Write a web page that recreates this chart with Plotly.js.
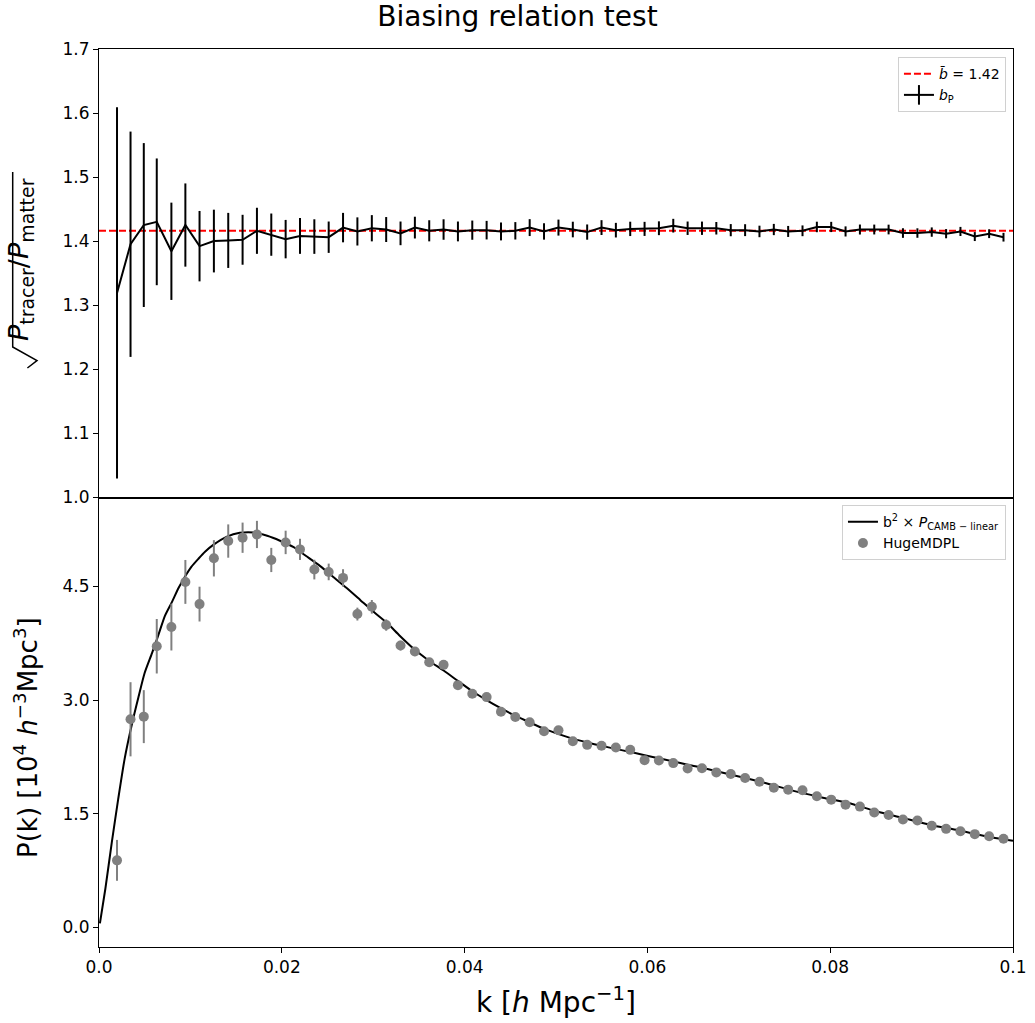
<!DOCTYPE html>
<html><head><meta charset="utf-8">
<script src="https://cdn.plot.ly/plotly-3.0.1.min.js"></script>
<style>html,body{margin:0;padding:0;background:#fff}</style>
</head><body><div id="chart" style="width:1035px;height:1023px"></div>
<script>
// wavenumbers of the measured bins [h/Mpc]
const k = [0.00197,0.00345,0.00490,0.00632,0.00792,0.00945,0.01100,0.01257,0.01414,0.01571,
0.01728,0.01885,0.02042,0.02199,0.02356,0.02513,0.02670,0.02827,0.02985,0.03142,
0.03299,0.03456,0.03613,0.03770,0.03927,0.04084,0.04241,0.04398,0.04555,0.04712,
0.04869,0.05027,0.05184,0.05341,0.05498,0.05655,0.05812,0.05969,0.06126,0.06283,
0.06440,0.06597,0.06754,0.06912,0.07069,0.07226,0.07383,0.07540,0.07697,0.07854,
0.08011,0.08168,0.08325,0.08482,0.08639,0.08796,0.08954,0.09111,0.09268,0.09425,
0.09582,0.09739,0.09896];
// bias sqrt(Ptracer/Pmatter)
const bias = [1.319,1.395,1.425,1.430,1.384,1.425,1.392,1.400,1.401,1.402,
1.416,1.410,1.403,1.408,1.407,1.406,1.421,1.415,1.420,1.418,
1.412,1.421,1.416,1.418,1.415,1.417,1.417,1.415,1.416,1.421,
1.415,1.421,1.418,1.414,1.421,1.417,1.419,1.419,1.420,1.424,
1.420,1.420,1.420,1.417,1.417,1.415,1.418,1.415,1.416,1.422,
1.422,1.415,1.418,1.418,1.418,1.4125,1.4125,1.414,1.4115,1.415,
1.407,1.4115,1.406];
const biasErr = [0.290,0.176,0.128,0.099,0.076,0.065,0.055,0.049,0.043,0.039,
0.036,0.033,0.030,0.028,0.027,0.0245,0.023,0.022,0.0205,0.0195,
0.0185,0.017,0.0165,0.016,0.0155,0.015,0.0145,0.014,0.0136,0.0132,
0.0128,0.0125,0.0122,0.0119,0.0116,0.0114,0.0112,0.011,0.0108,0.0107,
0.0105,0.0104,0.0098,0.0095,0.0093,0.009,0.0088,0.0086,0.0084,0.0082,
0.008,0.0079,0.0078,0.0077,0.0076,0.0075,0.0074,0.0073,0.0072,0.0071,
0.007,0.0069,0.0068];
const meanBias = 1.416;
const meanBiasLabel = "1.42";
const kRange = [0, 0.1];
// measured power spectrum [1e4 (Mpc/h)^3]
const pk = [0.882,2.746,2.781,3.711,3.965,4.561,4.268,4.873,5.101,5.145,
5.188,4.851,5.083,4.991,4.724,4.693,4.614,4.136,4.232,3.991,
3.720,3.641,3.500,3.465,3.197,3.083,3.039,2.846,2.776,2.706,
2.588,2.601,2.456,2.408,2.395,2.373,2.342,2.206,2.202,2.167,
2.096,2.100,2.044,2.022,1.969,1.921,1.842,1.816,1.807,1.728,
1.684,1.618,1.592,1.513,1.482,1.421,1.408,1.338,1.298,1.267,
1.228,1.201,1.167];
const pkErr = [0.27,0.49,0.35,0.36,0.31,0.29,0.23,0.24,0.22,0.20,
0.18,0.16,0.155,0.14,0.13,0.11,0.115,0.085,0.09,0.075,
0.065,0.06,0.055,0.05,0.047,0.044,0.041,0.038,0.036,0.034,
0.032,0.030,0.029,0.028,0.027,0.026,0.025,0.024,0.023,0.022,
0.021,0.020,0.020,0.019,0.019,0.018,0.018,0.017,0.017,0.017,
0.016,0.016,0.016,0.015,0.015,0.015,0.015,0.014,0.014,0.014,
0.014,0.013,0.013];
// linear theory b^2 * P_CAMB
const kTheory = [0.0001,0.0007,0.0014,0.0021,0.0028,0.0036,0.0043,0.0050,0.0058,0.0065,
0.0072,0.0080,0.0087,0.0094,0.0101,0.0109,0.0116,0.0125,0.0140,0.0154,
0.0169,0.0184,0.0198,0.0213,0.0227,0.0242,0.0256,0.0271,0.0286,0.0300,
0.0315,0.0329,0.0345,0.0361,0.0377,0.0393,0.0408,0.0424,0.0440,0.0456,
0.0472,0.0487,0.0503,0.0518,0.0534,0.0550,0.0565,0.0581,0.0597,0.0612,
0.0628,0.0644,0.0660,0.0700,0.0730,0.0760,0.0792,0.0820,0.0850,0.0880,
0.0910,0.0940,0.0970,0.1000];
const pTheory = [0.05,0.51,1.12,1.69,2.22,2.68,3.03,3.36,3.62,3.86,
4.11,4.30,4.48,4.63,4.76,4.87,4.96,5.05,5.16,5.21,
5.215,5.17,5.105,5.02,4.90,4.77,4.63,4.48,4.32,4.17,
4.02,3.85,3.67,3.52,3.39,3.25,3.12,3.00,2.89,2.79,
2.70,2.62,2.55,2.49,2.44,2.395,2.355,2.315,2.27,2.23,
2.19,2.145,2.105,1.99,1.90,1.80,1.71,1.64,1.53,1.44,
1.35,1.28,1.20,1.14];
const xTicks = [0, 0.02, 0.04, 0.06, 0.08, 0.1];
const xTickText = ["0.0","0.02","0.04","0.06","0.08","0.1"];
const yTopTicks = [1.0,1.1,1.2,1.3,1.4,1.5,1.6,1.7];
const yTopTickText = ["1.0","1.1","1.2","1.3","1.4","1.5","1.6","1.7"];
const yBotTicks = [0, 1.5, 3.0, 4.5];
const yBotTickText = ["0.0","1.5","3.0","4.5"];

const FONT = "DejaVu Sans";
const W = 1035, H = 1023, ML = 99, MR = 22, MT = 49, MB = 76;
const PW = W - ML - MR, PH = H - MT - MB;
// pixel -> paper helpers for the hand-drawn radical sign of the y label
const px = v => (v - ML) / PW;
const py = v => (H - MB - v) / PH;
const radical = 'M ' + px(27.4) + ' ' + py(368) + ' L ' + px(37) + ' ' + py(360.5) +
                ' L ' + px(12.7) + ' ' + py(347) + ' L ' + px(12.7) + ' ' + py(172);

const traces = [
  {x: kRange, y: [meanBias, meanBias], xaxis:'x2', yaxis:'y2', mode:'lines',
   line:{color:'#ff0000', width:2, dash:'7px,3px'}, name:'<i>b\u0304</i> = '+meanBiasLabel, legend:'legend'},
  {x: k, y: bias, xaxis:'x2', yaxis:'y2', mode:'lines', line:{color:'#000', width:2},
   error_y:{type:'data', array: biasErr, visible:true, color:'#000', thickness:2, width:0},
   showlegend:false},
  {x:[null], y:[null], xaxis:'x2', yaxis:'y2', mode:'lines+markers', line:{color:'#000', width:2},
   marker:{symbol:'line-ns', size:14, line:{color:'#000', width:2}},
   name:'<i>b</i><sub>P</sub>', legend:'legend'},
  {x: kTheory, y: pTheory, xaxis:'x', yaxis:'y', mode:'lines',
   line:{color:'#000', width:2, shape:'spline', smoothing:0.6},
   name:'b<sup>2</sup> × <i>P</i><sub>CAMB − linear</sub>', legend:'legend2'},
  {x: k, y: pk, xaxis:'x', yaxis:'y', mode:'markers',
   marker:{color:'#808080', size:10},
   error_y:{type:'data', array: pkErr, visible:true, color:'#808080', thickness:2, width:0},
   name:'HugeMDPL', legend:'legend2'}
];

const axisCommon = {showline:true, linecolor:'#000', linewidth:1, mirror:true,
  ticks:'outside', ticklen:5, tickwidth:1, tickcolor:'#000', showgrid:false, zeroline:false,
  tickfont:{family:FONT, size:17, color:'#000'}};

const layout = {
  width:W, height:H,
  margin:{l:ML, r:MR, t:MT, b:MB},
  paper_bgcolor:'#fff', plot_bgcolor:'#fff',
  font:{family:FONT, color:'#000'},
  title:{text:'Biasing relation test', x:0.5, xref:'container', xanchor:'center',
         y:1-16/1023, yref:'container', yanchor:'middle', font:{family:FONT, size:28, color:'#000'}},
  xaxis: Object.assign({}, axisCommon, {domain:[0,1], anchor:'y', range:[0,0.1],
     tickvals:xTicks, ticktext:xTickText}),
  xaxis2: Object.assign({}, axisCommon, {domain:[0,1], anchor:'y2', range:[0,0.1], matches:'x',
     showticklabels:false, ticks:''}),
  yaxis: Object.assign({}, axisCommon, {domain:[0,0.499], anchor:'x', range:[-0.263,5.658],
     tickvals:yBotTicks, ticktext:yBotTickText}),
  yaxis2: Object.assign({}, axisCommon, {domain:[0.501,1], anchor:'x2', range:[1.0,1.7],
     tickvals:yTopTicks, ticktext:yTopTickText}),
  legend:{x:0.9923, xanchor:'right', y:0.991, yanchor:'top', bgcolor:'#fff',
     bordercolor:'#d0d0d0', borderwidth:1, font:{family:FONT, size:14, color:'#000'}},
  legend2:{x:0.9923, xanchor:'right', y:0.492, yanchor:'top', bgcolor:'#fff',
     bordercolor:'#d0d0d0', borderwidth:1, font:{family:FONT, size:14, color:'#000'}},
  shapes:[
    {type:'path', xref:'paper', yref:'paper', path: radical, line:{color:'#000', width:1.5}}
  ],
  annotations:[
    {text:'k [<i>h</i> Mpc<sup>−1</sup>]', xref:'paper', yref:'paper', x:0.5, y:-53/898,
     xanchor:'center', yanchor:'middle', showarrow:false, font:{family:FONT, size:28, color:'#000'}},
    {text:'<i>P</i><sub>tracer</sub>/<i>P</i><sub>matter</sub>',
     xref:'paper', yref:'paper', x:-79/914, y:(947-260)/898, textangle:-90,
     xanchor:'center', yanchor:'middle', showarrow:false, font:{family:FONT, size:27, color:'#000'}},
    {text:'P(k) [10<sup>4</sup> <i>h</i><sup>−3</sup>Mpc<sup>3</sup>]',
     xref:'paper', yref:'paper', x:-73/914, y:(947-738)/898, textangle:-90,
     xanchor:'center', yanchor:'middle', showarrow:false, font:{family:FONT, size:26, color:'#000'}}
  ],
  showlegend:true
};

Plotly.newPlot('chart', traces, layout, {staticPlot:true});
</script>
</body></html>
